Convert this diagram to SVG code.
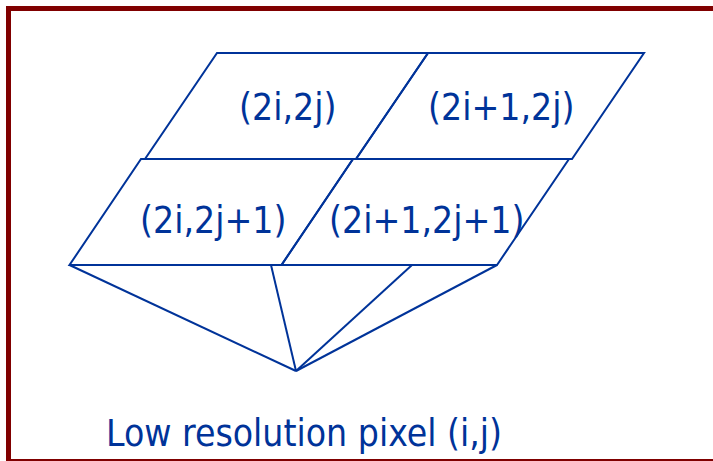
<svg xmlns="http://www.w3.org/2000/svg" width="713" height="461" viewBox="0 0 713 461">
  <style>
    .cell { fill: none; stroke: #003399; stroke-width: 2; stroke-linejoin: miter; }
    .conn { stroke: #003399; stroke-width: 2; fill: none; }
    .lbl { font-family: "DejaVu Sans Condensed", "DejaVu Sans", "Liberation Sans", sans-serif; font-stretch: condensed; font-size: 37px; fill: #003399; }
  </style>
  <rect x="0" y="0" width="713" height="461" fill="#ffffff"/>
  <rect id="frame" x="8.5" y="8.5" width="720" height="453" fill="none" stroke="#800000" stroke-width="5"/>
  <g id="cell-2i-2j">
    <polygon class="cell" points="217,53 428,53 356,159 145,159"/>
    <text class="lbl" x="239" y="120">(2i,2j)</text>
  </g>
  <g id="cell-2i1-2j">
    <polygon class="cell" points="428,53 644,53 572,159 356,159"/>
    <text class="lbl" x="428" y="120">(2i+1,2j)</text>
  </g>
  <g id="cell-2i-2j1">
    <polygon class="cell" points="141,159 353,159 281.5,265 69.5,265"/>
    <text class="lbl" x="140" y="233">(2i,2j+1)</text>
  </g>
  <g id="cell-2i1-2j1">
    <polygon class="cell" points="353,159 569,159 497,265 281.5,265"/>
    <text class="lbl" x="329" y="233">(2i+1,2j+1)</text>
  </g>
  <g id="connectors">
    <line class="conn" x1="296" y1="371" x2="69.5" y2="265"/>
    <line class="conn" x1="296" y1="371" x2="271" y2="265"/>
    <line class="conn" x1="296" y1="371" x2="412" y2="265"/>
    <line class="conn" x1="296" y1="371" x2="497" y2="265"/>
  </g>
  <g id="low-res-label">
    <text class="lbl" x="106" y="446">Low resolution pixel (i,j)</text>
  </g>
</svg>
